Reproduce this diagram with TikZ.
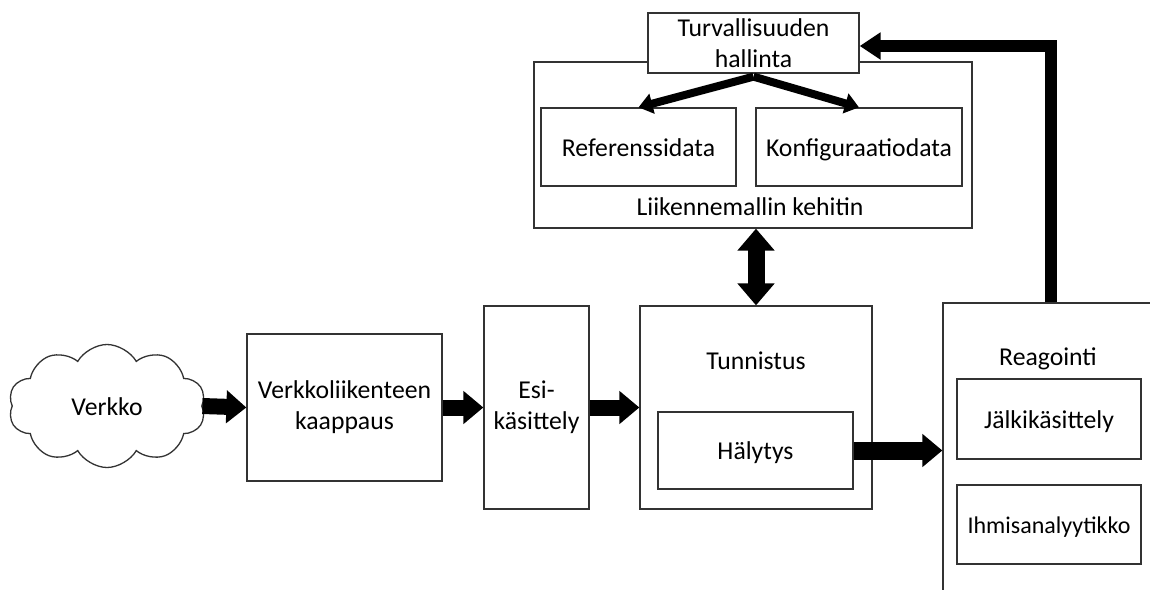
\documentclass[tikz,border=0pt]{standalone}
\usepackage{fontspec}
\setmainfont{Carlito}
\usetikzlibrary{arrows.meta,shapes.symbols}
\tikzset{
  box/.style={draw=black!80, line width=1.3pt, fill=white, inner sep=2pt},
  oneline/.style={text height=19pt, text depth=1pt},
  fat/.style={line width=16pt, -{Triangle[width=32pt,length=20pt]}},
}
\begin{document}
\begin{tikzpicture}[x=1pt, y=-1pt, every node/.style={font=\fontsize{25.7pt}{31pt}\selectfont}]
  \clip (0,0) rectangle (1150,589);
  \fill[white] (0,0) rectangle (1150,589);
  % Network cloud
  \node[cloud, cloud puffs=10, cloud puff arc=120, cloud ignores aspect, draw=black!80, line width=1.3pt,
        minimum width=197pt, minimum height=123pt, oneline] (verkko) at (107,406) {Verkko};
  % Processing chain
  \node[box, minimum width=195pt, minimum height=147pt, align=center] (kaappaus) at (344.5,407.5) {Verkkoliikenteen\\kaappaus};
  \node[box, minimum width=105pt, minimum height=203pt, align=center] (esi) at (536.5,407.5) {Esi-\\käsittely};
  \node[box, minimum width=232pt, minimum height=203pt] (tunnistus) at (756,407.5) {};
  \node[oneline] (tunnistuslbl) at (756,360) {Tunnistus};
  \node[box, minimum width=195pt, minimum height=77pt, oneline] (halytys) at (755.5,450.5) {Hälytys};
  % Reaction
  \node[box, minimum width=224pt, minimum height=300pt] (reagointi) at (1055,453) {};
  \node[oneline] (reagointilbl) at (1048,356) {Reagointi};
  \node[box, minimum width=184pt, minimum height=80pt, oneline] (jalki) at (1049,419) {Jälkikäsittely};
  \node[box, minimum width=184pt, minimum height=79pt, oneline, font=\fontsize{24pt}{29pt}\selectfont] (ihmis) at (1049,524.5) {Ihmisanalyytikko};
  % Traffic model builder
  \node[box, minimum width=438pt, minimum height=166pt] (kehitin) at (753,145) {};
  \node[oneline] (kehitinlbl) at (750,206) {Liikennemallin kehitin};
  \node[box, minimum width=195pt, minimum height=78pt, oneline] (ref) at (638.5,147) {Referenssidata};
  \node[box, minimum width=206pt, minimum height=78pt, oneline] (konf) at (859,147) {Konfiguraatiodata};
  \node[box, minimum width=211pt, minimum height=60pt, align=center, inner sep=0pt] (turva) at (753.5,43) {Turvallisuuden\\hallinta};
  % Arrows
  \draw[fat] (verkko.east) -- (kaappaus.west);
  \draw[fat] (kaappaus.east) -- (esi.west);
  \draw[fat] (esi.east) -- (tunnistus.west);
  \draw[fat, line width=18pt] (halytys.east) -- (halytys.east -| reagointi.west);
  \draw[line width=17pt, {Triangle[width=36pt,length=22pt]}-{Triangle[width=36pt,length=22pt]}]
    (tunnistus.north |- kehitin.south) -- (tunnistus.north);
  \draw[line width=8pt, -{Triangle[width=20pt,length=14pt]}] ([yshift=-3pt]turva.south) -- (ref.north);
  \draw[line width=8pt, -{Triangle[width=20pt,length=14pt]}] ([yshift=-3pt]turva.south) -- (konf.north);
  \draw[line width=12pt, -{Triangle[width=26pt,length=21pt]}]
    ([xshift=2pt]jalki.center |- reagointi.north) |- ([yshift=-3pt]turva.east);
\end{tikzpicture}
\end{document}
